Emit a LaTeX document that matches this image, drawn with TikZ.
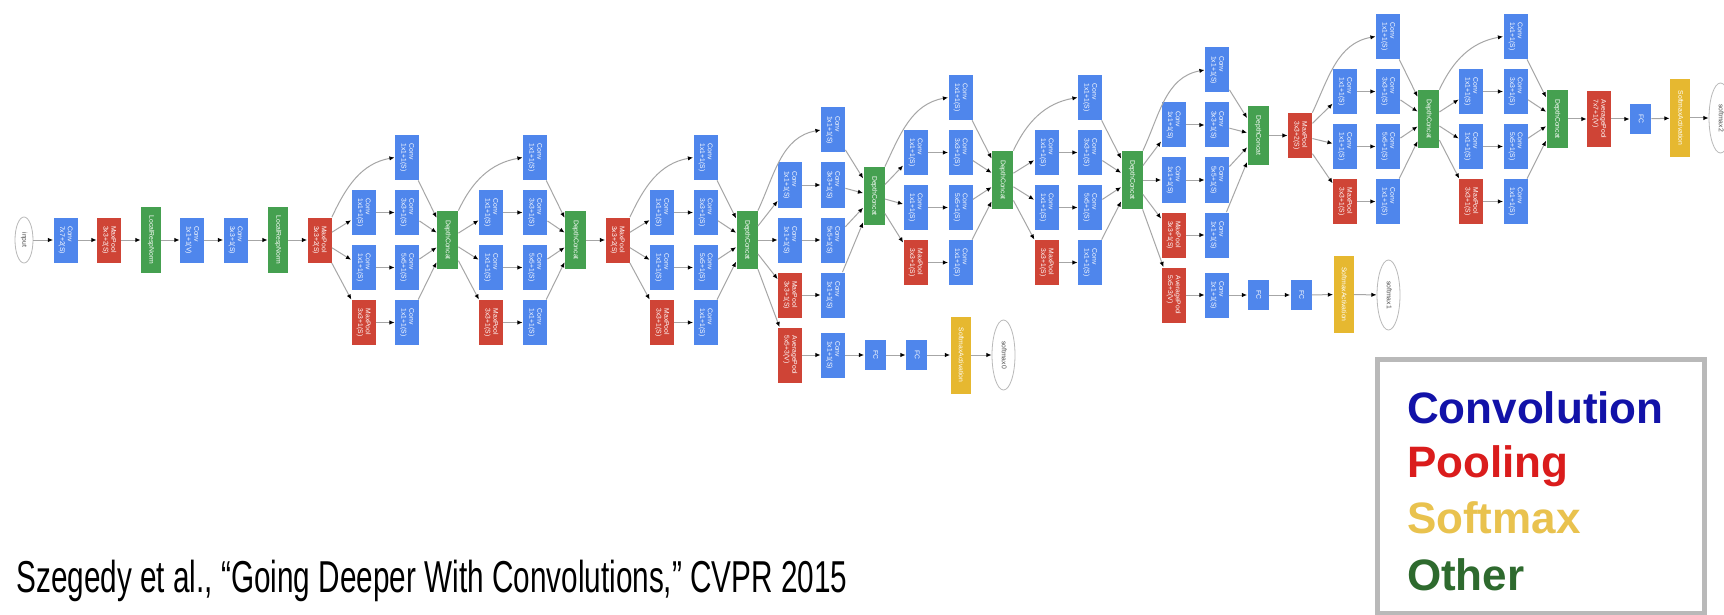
\documentclass[tikz,border=0pt]{standalone}
\usepackage{fontspec}
\setmainfont{Liberation Sans}
\usepackage{graphicx}
\usetikzlibrary{arrows.meta,shapes.geometric}
\definecolor{cblue}{HTML}{4F86EC}
\definecolor{cred}{HTML}{CF4436}
\definecolor{cgreen}{HTML}{45A050}
\definecolor{cyellow}{HTML}{E6B830}
\definecolor{lgblue}{HTML}{1212A8}
\definecolor{lgred}{HTML}{DA1C1C}
\definecolor{lgyellow}{HTML}{E9C24E}
\definecolor{lggreen}{HTML}{2E6A2E}
\newcommand{\lb}[1]{\rotatebox{-90}{\begin{tabular}{@{}l@{}}#1\end{tabular}}}
\tikzset{
  box/.style={rectangle, text=white, inner sep=0pt, font=\fontsize{3.4}{3.9}\selectfont},
  conv/.style={box, fill=cblue, minimum width=12pt, minimum height=22.5pt},
  pool/.style={box, fill=cred, minimum width=12pt, minimum height=22.5pt},
  apool/.style={box, fill=cred, minimum width=12pt, minimum height=27.5pt},
  cat/.style={box, fill=cgreen, minimum width=10.5pt, minimum height=29pt},
  lrn/.style={box, fill=cgreen, minimum width=10pt, minimum height=33pt},
  fc/.style={box, fill=cblue, minimum width=10.5pt, minimum height=15pt},
  smx/.style={box, fill=cyellow, minimum width=10pt, minimum height=38.5pt},
  outp/.style={ellipse, draw=gray!55, line width=0.4pt, fill=white, inner sep=0pt,
     minimum width=11.5pt, minimum height=35pt, text=black!70, font=\fontsize{3.4}{3.9}\selectfont},
  conn/.style={draw=gray!70, line width=0.5pt, -{Latex[length=2.6pt,width=2.2pt,color=black]}},
  legend/.style={anchor=base west, font=\fontsize{22}{26}\selectfont\bfseries},
}
% #1 name, #2 previous node, #3 x col1, #4 x col2, #5 x concat, #6 y top row, #7 y concat
\newcommand{\incep}[7]{%
  \node[conv] (#1t) at ({#4},{#6}) {\lb{Conv\\1x1+1(S)}};
  \node[conv] (#1a) at ({#3},{#6+55}) {\lb{Conv\\1x1+1(S)}};
  \node[conv] (#1b) at ({#3},{#6+110}) {\lb{Conv\\1x1+1(S)}};
  \node[pool] (#1c) at ({#3},{#6+165}) {\lb{MaxPool\\3x3+1(S)}};
  \node[conv] (#1A) at ({#4},{#6+55}) {\lb{Conv\\3x3+1(S)}};
  \node[conv] (#1B) at ({#4},{#6+110}) {\lb{Conv\\5x5+1(S)}};
  \node[conv] (#1C) at ({#4},{#6+165}) {\lb{Conv\\1x1+1(S)}};
  \node[cat] (#1) at ({#5},{#7}) {\lb{DepthConcat}};
  \draw[conn] (#2.north east) to[out=65,in=190] (#1t.west);
  \draw[conn] (#2) -- (#1a);
  \draw[conn] (#2) -- (#1b);
  \draw[conn] (#2) -- (#1c);
  \draw[conn] (#1a) -- (#1A);
  \draw[conn] (#1b) -- (#1B);
  \draw[conn] (#1c) -- (#1C);
  \draw[conn] (#1t) -- (#1);
  \draw[conn] (#1A) -- (#1);
  \draw[conn] (#1B) -- (#1);
  \draw[conn] (#1C) -- (#1);
}
\begin{document}
\begin{tikzpicture}[x=0.5pt,y=-0.5pt]
\useasboundingbox[fill=white] (0,0) rectangle (1724,615);
% stem
\node[outp, minimum width=9pt, minimum height=23pt] (in) at (24,240) {\lb{input}};
\node[conv] (c1) at (65.5,240) {\lb{Conv\\7x7+2(S)}};
\node[pool] (p1) at (109,240) {\lb{MaxPool\\3x3+2(S)}};
\node[lrn] (n1) at (151,240) {\lb{LocalRespNorm}};
\node[conv] (c2) at (192,240) {\lb{Conv\\1x1+1(V)}};
\node[conv] (c3) at (235.5,240) {\lb{Conv\\3x3+1(S)}};
\node[lrn] (n2) at (278,240) {\lb{LocalRespNorm}};
\node[pool] (p2) at (319.5,240) {\lb{MaxPool\\3x3+2(S)}};
\draw[conn] (in) -- (c1);
\draw[conn] (c1) -- (p1);
\draw[conn] (p1) -- (n1);
\draw[conn] (n1) -- (c2);
\draw[conn] (c2) -- (c3);
\draw[conn] (c3) -- (n2);
\draw[conn] (n2) -- (p2);
% inception modules
\incep{ia}{p2}{363.5}{407}{447.5}{157.5}{240}
\incep{ib}{ia}{491}{535}{575.5}{157.5}{240}
\node[pool] (p3) at (617.5,240) {\lb{MaxPool\\3x3+2(S)}};
\draw[conn] (ib) -- (p3);
\incep{ic}{p3}{662}{705.5}{747}{157.5}{240}
\incep{id}{ic}{790}{833}{874}{130}{196}
\incep{ie}{id}{915.5}{960.5}{1002.5}{97.5}{180}
\incep{ig}{ie}{1046.5}{1090}{1132}{97.5}{180}
\incep{ih}{ig}{1173.5}{1217}{1258}{70}{135.5}
\node[pool] (p4) at (1300,135.5) {\lb{MaxPool\\3x3+2(S)}};
\draw[conn] (ih) -- (p4);
\incep{ii}{p4}{1345}{1388}{1428.5}{36.5}{119}
\incep{ij}{ii}{1471}{1515.5}{1557}{36.5}{119}
% auxiliary classifier 1
\node[apool] (ap1) at (790,355) {\lb{AveragePool\\5x5+3(V)}};
\node[conv] (ac1) at (833,355) {\lb{Conv\\1x1+1(S)}};
\node[fc] (fa1) at (875,355) {\lb{FC}};
\node[fc] (fb1) at (916.5,355) {\lb{FC}};
\node[smx] (sm1) at (960.5,355) {\lb{SoftmaxActivation}};
\node[outp] (o1) at (1003.5,355) {\lb{softmax0}};
\draw[conn] (ic) -- (ap1);
\draw[conn] (ap1) -- (ac1);
\draw[conn] (ac1) -- (fa1);
\draw[conn] (fa1) -- (fb1);
\draw[conn] (fb1) -- (sm1);
\draw[conn] (sm1) -- (o1);
% auxiliary classifier 2
\node[apool] (ap2) at (1173.5,295) {\lb{AveragePool\\5x5+3(V)}};
\node[conv] (ac2) at (1217,295) {\lb{Conv\\1x1+1(S)}};
\node[fc] (fa2) at (1258,295) {\lb{FC}};
\node[fc] (fb2) at (1301,295) {\lb{FC}};
\node[smx] (sm2) at (1343.5,294.5) {\lb{SoftmaxActivation}};
\node[outp] (o2) at (1388.5,295) {\lb{softmax1}};
\draw[conn] (ig) -- (ap2);
\draw[conn] (ap2) -- (ac2);
\draw[conn] (ac2) -- (fa2);
\draw[conn] (fa2) -- (fb2);
\draw[conn] (fb2) -- (sm2);
\draw[conn] (sm2) -- (o2);
% final classifier
\node[box, fill=cred, minimum width=12pt, minimum height=28pt] (ap3) at (1599,119) {\lb{AveragePool\\7x7+1(V)}};
\node[fc] (fa3) at (1640.5,119) {\lb{FC}};
\node[smx, minimum height=39pt] (sm3) at (1680,118) {\lb{SoftmaxActivation}};
\node[outp] (o3) at (1720.5,118) {\lb{softmax2}};
\draw[conn] (ij) -- (ap3);
\draw[conn] (ap3) -- (fa3);
\draw[conn] (fa3) -- (sm3);
\draw[conn] (sm3) -- (o3);
% legend
\node[draw=gray!55, line width=2.5pt, minimum width=163.5pt, minimum height=127pt, anchor=north west] (lgbox) at (1375,357) {};
\node[legend, text=lgblue] (lg1) at (1400,423) {Convolution};
\node[legend, text=lgred] (lg2) at (1400,477) {Pooling};
\node[legend, text=lgyellow] (lg3) at (1400,533) {Softmax};
\node[legend, text=lggreen] (lg4) at (1400,590) {Other};
% caption
\node[anchor=base west, inner sep=0pt, font=\fontsize{22.35}{26}\selectfont] (cap) at (16,592)
  {\scalebox{0.665}[1]{Szegedy et al., “Going Deeper With Convolutions,” CVPR 2015}};
\end{tikzpicture}
\end{document}
